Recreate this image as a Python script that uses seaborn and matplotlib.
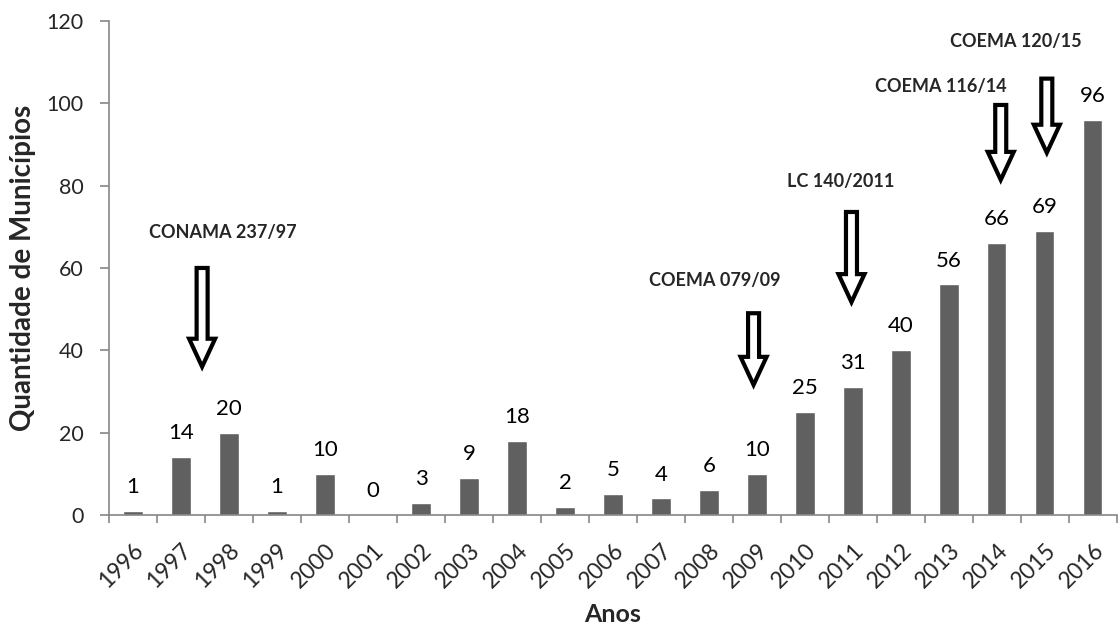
import matplotlib
matplotlib.use("Agg")
import matplotlib.pyplot as plt
import seaborn as sns
import pandas as pd
import numpy as np
from matplotlib.patches import FancyArrow

years = ["1996", "1997", "1998", "1999", "2000", "2001", "2002", "2003", "2004", "2005",
         "2006", "2007", "2008", "2009", "2010", "2011", "2012", "2013", "2014", "2015", "2016"]
counts = [1, 14, 20, 1, 10, 0, 3, 9, 18, 2, 5, 4, 6, 10, 25, 31, 40, 56, 66, 69, 96]

# annotations: text, text position (x, y), arrow x, arrow top, arrow tip
ann_texts = ["CONAMA 237/97", "COEMA 079/09", "LC 140/2011", "COEMA 116/14", "COEMA 120/15"]
ann_text_x = [1.88, 12.12, 14.75, 16.83, 18.4]
ann_text_y = [68.5, 57.0, 81.0, 104.0, 115.0]
arrow_x = [1.44, 12.93, 14.97, 18.08, 19.04]
arrow_top = [60.0, 49.0, 73.6, 99.6, 106.0]
arrow_tip = [36.0, 31.6, 51.7, 81.4, 88.0]

sns.set_style("white")
plt.rcParams["font.family"] = ["Lato", "DejaVu Sans"]

fig = plt.figure(figsize=(11.18, 6.31), dpi=100)
ax = fig.add_axes([0.0975, 0.184, 0.9015, 0.7827])

df = pd.DataFrame({"Ano": years, "Qtd": counts})
sns.barplot(data=df, x="Ano", y="Qtd", color="#606060", width=0.4, saturation=1, ax=ax)

ax.set_ylim(0, 120)
ax.set_xlim(-0.5, len(years) - 0.5)
ax.set_yticks(range(0, 121, 20))

for c in ax.containers:
    ax.bar_label(c, labels=[str(v) for v in counts], padding=10, fontsize=16, color="black")

axis_col = "#868686"
for s in ["top", "right"]:
    ax.spines[s].set_visible(False)
for s in ["left", "bottom"]:
    ax.spines[s].set_color(axis_col)
    ax.spines[s].set_linewidth(1.2)

ax.tick_params(axis="y", which="major", direction="out", length=6.5, width=1.2,
               color=axis_col, labelsize=15.5, pad=12, left=True)
ax.set_xticks(np.arange(len(years)))
ax.set_xticklabels(years, rotation=45, ha="right", rotation_mode="anchor", fontsize=16.5)
ax.tick_params(axis="x", which="major", length=0, pad=18)
ax.set_xticks(np.arange(-0.5, len(years), 1), minor=True)
ax.tick_params(axis="x", which="minor", direction="out", length=6, width=1.2,
               color=axis_col, bottom=True)

ax.set_xlabel("Anos", fontsize=18, fontweight="bold", labelpad=8)
ax.set_ylabel("Quantidade de Municípios", fontsize=20, fontweight="bold", labelpad=7)

# arrows and texts
for t, tx, ty, axx, top, tip in zip(ann_texts, ann_text_x, ann_text_y, arrow_x, arrow_top, arrow_tip):
    ax.text(tx, ty, t, ha="center", va="center", fontsize=13, fontweight="bold")
    arr = FancyArrow(axx, top, 0, tip - top, width=11 / 48, head_width=26 / 48,
                     head_length=28 / 4.117, length_includes_head=True,
                     facecolor="white", edgecolor="black", linewidth=3, zorder=5)
    ax.add_patch(arr)

fig.savefig("out.png", dpi=100)
